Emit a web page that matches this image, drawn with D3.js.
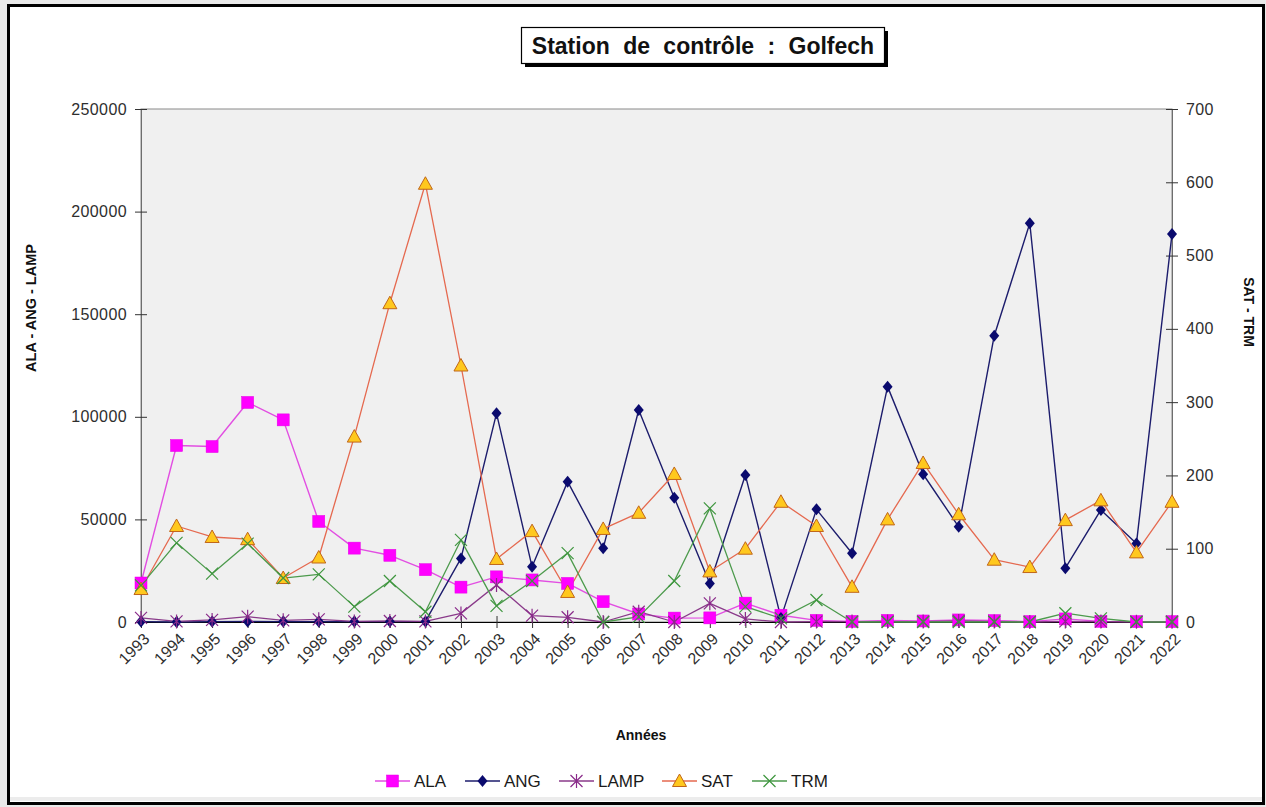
<!DOCTYPE html>
<html>
<head>
<meta charset="utf-8">
<script src="https://cdn.jsdelivr.net/npm/d3@7"></script>
<style>
  html, body { margin: 0; padding: 0; background: #e9e9e9; }
  svg { display: block; }
  text { font-family: "Liberation Sans", Arial, sans-serif; }
</style>
</head>
<body>
<svg id="chart" width="1266" height="807"></svg>
<script>
// Années de suivi
const years = d3.range(1993, 2023);

// Effectifs (axe de gauche)
const ala  = [19000, 86000, 85500, 107000, 98500, 49000, 36000, 32500, 25500, 17000,
              22000, 20500, 18800, 9900, 3900, 1900, 2000, 9200, 3300, 800,
              300, 800, 500, 1000, 700, 200, 1500, 300, 200, 200];
const ang  = [200, 0, 200, 300, 200, 200, 200, 200, 300, 31000,
              101700, 26900, 68400, 35900, 103300, 60600, 18800, 71600, 2000, 54900,
              33500, 114700, 72000, 46400, 139500, 194300, 26200, 54600, 38300, 189100];
const lamp = [2000, 300, 1000, 2600, 800, 1300, 300, 500, 300, 4200,
              18000, 3100, 2300, 0, 5000, 0, 9100, 1500, 0, 200,
              200, 200, 200, 500, 200, 0, 300, 200, 100, 100];

// Effectifs (axe de droite)
const sat  = [45, 131, 116, 113, 60, 88, 253, 435, 598, 350,
              86, 124, 41, 127, 149, 202, 69, 100, 164, 131,
              48, 140, 217, 147, 85, 75, 139, 166, 95, 164];
const trm  = [50, 108, 66, 107, 60, 65, 21, 56, 14, 112,
              22, 56, 94, 0, 7, 56, 155, 21, 5, 30,
              0, 0, 0, 0, 0, 0, 12, 5, 0, 0];

const leftTicks  = [0, 50000, 100000, 150000, 200000, 250000];
const rightTicks = [0, 100, 200, 300, 400, 500, 600, 700];

const svg = d3.select("#chart");

// Cadre du graphique
svg.append("rect").attr("x", 8.5).attr("y", 5.5).attr("width", 1255).attr("height", 798)
  .attr("fill", "#ffffff").attr("stroke", "#000").attr("stroke-width", 3);
svg.append("rect").attr("x", 10).attr("y", 797).attr("width", 1252).attr("height", 4)
  .attr("fill", "#ececec");

const L = 141, R = 1172, T = 109, B = 622;

const x = d3.scalePoint().domain(years).range([L, R]).padding(0);
const yL = d3.scaleLinear().domain([0, 250000]).range([B, T]);
const yR = d3.scaleLinear().domain([0, 700]).range([B, T]);

// Zone de traçage
svg.append("rect").attr("x", L).attr("y", T).attr("width", R - L).attr("height", B - T)
  .attr("fill", "#f0f0f0").attr("stroke", "#8a8a8a").attr("stroke-width", 1);

// Axe gauche
const gl = svg.append("g").attr("transform", `translate(${L},0)`)
  .call(d3.axisLeft(yL).tickValues(leftTicks).tickSize(6).tickPadding(8).tickFormat(d3.format("d")));
gl.select(".domain").attr("stroke", "#6e6e6e");
gl.selectAll(".tick line").attr("x1", 6).attr("stroke", "#333");
gl.selectAll(".tick text").attr("font-size", 16).attr("fill", "#2e2e2e")
  .attr("font-family", "Liberation Sans, Arial, sans-serif").attr("letter-spacing", 0.4);

// Axe droit
const gr = svg.append("g").attr("transform", `translate(${R},0)`)
  .call(d3.axisRight(yR).tickValues(rightTicks).tickSize(6).tickPadding(8).tickFormat(d3.format("d")));
gr.select(".domain").attr("stroke", "#6e6e6e");
gr.selectAll(".tick line").attr("x1", -6).attr("stroke", "#333");
gr.selectAll(".tick text").attr("font-size", 16).attr("fill", "#2e2e2e")
  .attr("font-family", "Liberation Sans, Arial, sans-serif").attr("letter-spacing", 0.4);

// Axe des années
const gx = svg.append("g").attr("transform", `translate(0,${B})`)
  .call(d3.axisBottom(x).tickSize(6).tickFormat(""));
gx.select(".domain").attr("stroke", "#000");
gx.selectAll(".tick line").attr("y1", -6).attr("stroke", "#333");
gx.selectAll(".tick").append("text")
  .attr("text-anchor", "end")
  .attr("transform", "translate(5,14) rotate(-45)")
  .attr("dy", "0.35em")
  .attr("font-size", 16).attr("fill", "#2e2e2e")
  .text(d => d);

// Symboles
function drawMarker(g, type) {
  if (type === "square") {
    g.append("rect").attr("x", -6).attr("y", -6).attr("width", 12).attr("height", 12)
      .attr("fill", "#ff00ff").attr("stroke", "#e600e6").attr("stroke-width", 0.5);
  } else if (type === "diamond") {
    g.append("path").attr("d", "M0,-6L5,0L0,6L-5,0Z").attr("fill", "#0a0a6e");
  } else if (type === "star") {
    g.append("path").attr("d", "M0,-7V7M-6,-6L6,6M-6,6L6,-6")
      .attr("stroke", "#8a2a8a").attr("stroke-width", 1.2).attr("fill", "none");
  } else if (type === "triangle") {
    g.append("path").attr("d", "M0,-7L7,5.5H-7Z")
      .attr("fill", "#ffc81e").attr("stroke", "#c0661a").attr("stroke-width", 1);
  } else if (type === "cross") {
    g.append("path").attr("d", "M-6,-6L6,6M-6,6L6,-6")
      .attr("stroke", "#3e963e").attr("stroke-width", 1.2).attr("fill", "none");
  }
}

const series = [
  { name: "ALA",  values: ala,  scale: yL, color: "#e24ee2", width: 1.4, marker: "square" },
  { name: "ANG",  values: ang,  scale: yL, color: "#1c1c6c", width: 1.4, marker: "diamond" },
  { name: "LAMP", values: lamp, scale: yL, color: "#8a3a8a", width: 1.3, marker: "star" },
  { name: "SAT",  values: sat,  scale: yR, color: "#e5694f", width: 1.3, marker: "triangle" },
  { name: "TRM",  values: trm,  scale: yR, color: "#4c9a4c", width: 1.3, marker: "cross" }
];

series.forEach(s => {
  const line = d3.line().x((d, i) => x(years[i])).y(d => s.scale(d));
  svg.append("path").datum(s.values).attr("d", line)
    .attr("fill", "none").attr("stroke", s.color).attr("stroke-width", s.width)
    .attr("stroke-linejoin", "round");
});
series.forEach(s => {
  svg.append("g").selectAll("g").data(s.values).join("g")
    .attr("transform", (d, i) => `translate(${x(years[i])},${s.scale(d)})`)
    .each(function () { drawMarker(d3.select(this), s.marker); });
});

// Titres des axes
svg.append("text").attr("transform", "translate(36,308) rotate(-90)")
  .attr("text-anchor", "middle").attr("font-size", 14.5).attr("font-weight", "bold")
  .attr("fill", "#111").text("ALA - ANG - LAMP");
svg.append("text").attr("transform", "translate(1244,312) rotate(90)")
  .attr("text-anchor", "middle").attr("font-size", 14).attr("font-weight", "bold")
  .attr("fill", "#111").text("SAT - TRM");
svg.append("text").attr("x", 641).attr("y", 740)
  .attr("text-anchor", "middle").attr("font-size", 14).attr("font-weight", "bold")
  .attr("fill", "#111").text("Années");

// Titre encadré
svg.append("rect").attr("x", 525).attr("y", 31).attr("width", 363).attr("height", 36).attr("fill", "#000");
svg.append("rect").attr("x", 521.5).attr("y", 27.5).attr("width", 363).attr("height", 36)
  .attr("fill", "#fff").attr("stroke", "#000").attr("stroke-width", 1.2);
svg.append("text").attr("x", 703).attr("y", 54)
  .attr("text-anchor", "middle").attr("font-size", 23).attr("font-weight", "bold")
  .attr("word-spacing", 7).attr("fill", "#111").text("Station de contrôle : Golfech");

// Légende
const legendX = [375, 465, 559, 662, 752];
const lg = svg.append("g");
series.forEach((s, i) => {
  const g = lg.append("g").attr("transform", `translate(${legendX[i]},781)`);
  g.append("line").attr("x1", 0).attr("x2", 35).attr("stroke", s.color).attr("stroke-width", 1.4);
  drawMarker(g.append("g").attr("transform", "translate(17.5,0)"), s.marker);
  g.append("text").attr("x", 39).attr("dy", "0.36em").attr("font-size", 17)
    .attr("fill", "#1a1a1a").text(s.name);
});
</script>
</body>
</html>
